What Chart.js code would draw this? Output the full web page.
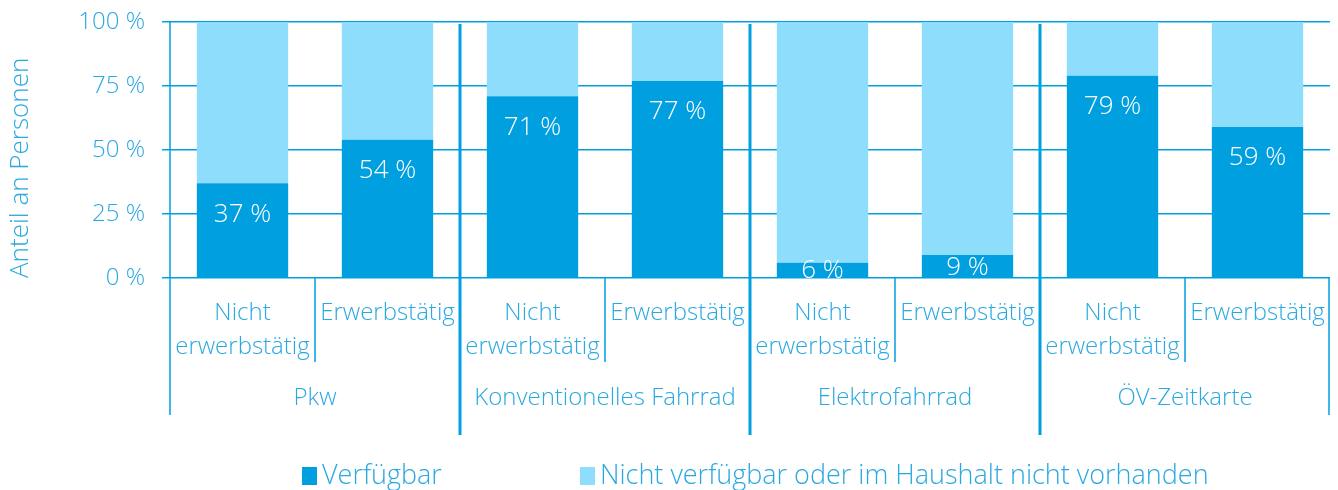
<!DOCTYPE html>
<html lang="de">
<head>
<meta charset="utf-8">
<title>Verfügbarkeit von Verkehrsmitteln</title>
<script src="https://cdn.jsdelivr.net/npm/chart.js@4.4.0/dist/chart.umd.min.js"></script>
<style>
  html, body { margin: 0; padding: 0; background: #fff; }
  #wrap { width: 1338px; height: 490px; position: relative; }
</style>
</head>
<body>
<div id="wrap"><canvas id="chart"></canvas></div>
<script>
/*=============== DATA ===============*/
const groups = ['Pkw', 'Konventionelles Fahrrad', 'Elektrofahrrad', 'ÖV-Zeitkarte']
const subCategories = [['Nicht', 'erwerbstätig'], 'Erwerbstätig']
const seriesNames = ['Verfügbar', 'Nicht verfügbar oder im Haushalt nicht vorhanden']
const verfuegbar = [37, 54, 71, 77, 6, 9, 79, 59]
const nichtVerfuegbar = [63, 46, 29, 23, 94, 91, 21, 41]
const yTicks = [0, 25, 50, 75, 100]

/*=============== STYLE ===============*/
const DARK = '#009fe0'
const LIGHT = '#8fddfc'
const LINE = '#009fe0'
const TEXT = '#2aa9e1'
const FONT = "'Open Sans', 'DejaVu Sans', sans-serif"

// one label per bar: every group has both sub-categories
const labels = []
groups.forEach(() => subCategories.forEach(s => labels.push(s)))

// keep the plot area fixed: no extra room for overhanging tick labels
const noPadding = scale => {
  scale.paddingLeft = 0
  scale.paddingRight = 0
  scale.paddingTop = 0
  scale.paddingBottom = 0
}

/*=============== PLUGINS ===============*/
// white percentage labels inside the dark bars
const valueLabels = {
  id: 'valueLabels',
  afterDatasetsDraw(chart) {
    const {ctx, chartArea: a} = chart
    const meta = chart.getDatasetMeta(0)
    ctx.save()
    ctx.beginPath()
    ctx.rect(a.left, a.top, a.right - a.left, a.bottom - a.top)
    ctx.clip()
    ctx.fillStyle = '#fff'
    ctx.font = `300 26px ${FONT}`
    ctx.textAlign = 'center'
    ctx.textBaseline = 'middle'
    meta.data.forEach((bar, i) => {
      const y = Math.min(bar.y + 31, (bar.y + bar.base) / 2 + 1)
      ctx.fillText(verfuegbar[i] + ' %', bar.x, y)
    })
    ctx.restore()
  }
}

// group lines, group names and the legend underneath
const groupAxis = {
  id: 'groupAxis',
  afterDraw(chart) {
    const {ctx, chartArea: a, scales: {x}} = chart
    const step = x.getPixelForValue(1) - x.getPixelForValue(0)
    const edge = i => x.getPixelForValue(i) - step / 2
    const per = subCategories.length

    ctx.save()
    ctx.strokeStyle = LINE

    // thin lines between sub-categories
    ctx.lineWidth = 1.5
    groups.forEach((g, gi) => {
      for (let k = 1; k < per; k++) {
        const px = Math.round(edge(gi * per + k))
        ctx.beginPath(); ctx.moveTo(px, a.bottom); ctx.lineTo(px, a.bottom + 84); ctx.stroke()
      }
    })

    // outer left / right borders
    const left = Math.round(edge(0))
    const right = Math.round(edge(labels.length)) - 1
    ctx.beginPath(); ctx.moveTo(left, a.top); ctx.lineTo(left, a.bottom + 137); ctx.stroke()
    ctx.beginPath(); ctx.moveTo(right, a.bottom); ctx.lineTo(right, a.bottom + 137); ctx.stroke()

    // thick lines between groups
    ctx.lineWidth = 3
    for (let gi = 1; gi < groups.length; gi++) {
      const px = Math.round(edge(gi * per))
      ctx.beginPath(); ctx.moveTo(px, a.top + 2); ctx.lineTo(px, a.bottom + 157); ctx.stroke()
    }

    // group names
    ctx.fillStyle = TEXT
    ctx.font = `300 24px ${FONT}`
    ctx.textAlign = 'center'
    ctx.textBaseline = 'middle'
    groups.forEach((g, gi) => {
      const cx = (edge(gi * per) + edge((gi + 1) * per)) / 2
      ctx.fillText(g, cx, a.bottom + 120)
    })

    // legend
    const colors = [DARK, LIGHT]
    const starts = [302, 580]
    ctx.font = `300 27px ${FONT}`
    ctx.textAlign = 'left'
    seriesNames.forEach((name, i) => {
      ctx.fillStyle = colors[i]
      ctx.fillRect(starts[i], 467, 15, 18)
      ctx.fillStyle = TEXT
      ctx.fillText(name, starts[i] + 20, 476)
    })
    ctx.restore()
  }
}

/*=============== CHART ===============*/
const ctx = document.getElementById('chart').getContext('2d')

new Chart(ctx, {
  type: 'bar',
  data: {
    labels: labels,
    datasets: [
      { label: seriesNames[0], data: verfuegbar, backgroundColor: DARK },
      { label: seriesNames[1], data: nichtVerfuegbar, backgroundColor: LIGHT }
    ]
  },
  options: {
    responsive: true,
    maintainAspectRatio: false,
    animation: false,
    layout: { padding: { top: 22, right: 8, left: 0, bottom: 0 } },
    datasets: { bar: { categoryPercentage: 1, barPercentage: 0.63 } },
    plugins: {
      legend: { display: false },
      tooltip: { enabled: false }
    },
    scales: {
      x: {
        stacked: true,
        grid: { display: false, drawTicks: false },
        border: { display: false },
        ticks: {
          color: TEXT,
          font: { family: FONT, size: 24, weight: 300, lineHeight: 1.42 },
          padding: 18,
          maxRotation: 0,
          autoSkip: false
        },
        afterFit: scale => { scale.height = 212; noPadding(scale) }
      },
      y: {
        stacked: true,
        min: 0,
        max: 100,
        afterBuildTicks: scale => { scale.ticks = yTicks.map(v => ({ value: v })) },
        grid: { color: LINE, lineWidth: 1.5, tickLength: 8 },
        border: { display: false },
        ticks: {
          color: TEXT,
          font: { family: FONT, size: 24, weight: 300 },
          padding: 17,
          callback: v => v + ' %'
        },
        title: {
          display: true,
          text: 'Anteil an Personen',
          align: 'start',
          color: TEXT,
          font: { family: FONT, size: 26, weight: 300 },
          padding: { top: 5, bottom: 0 }
        },
        afterFit: scale => { scale.width = 170; noPadding(scale) }
      }
    }
  },
  plugins: [valueLabels, groupAxis]
})
</script>
</body>
</html>
